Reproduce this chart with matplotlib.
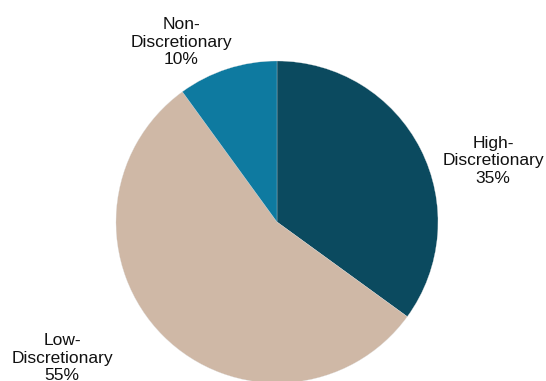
import matplotlib
matplotlib.use("Agg")
import matplotlib.pyplot as plt

# data
labels = ["High-\nDiscretionary\n35%", "Low-\nDiscretionary\n55%", "Non-\nDiscretionary\n10%"]
values = [35, 55, 10]
colors = ["#0b4a5f", "#cfb8a6", "#0e7aa0"]

plt.rcParams['font.family'] = ['Liberation Sans', 'DejaVu Sans']

W, H = 546, 381
cx, cy, r = 277, 222, 161
fig = plt.figure(figsize=(W / 100, H / 100), dpi=100)
ax = fig.add_axes([(cx - r) / W, (H - cy - r) / H, 2 * r / W, 2 * r / H])
ax.pie(values, colors=colors, startangle=90, counterclock=False,
       wedgeprops=dict(edgecolor="#dddddd", linewidth=0.2))
ax.set_xlim(-1, 1)
ax.set_ylim(-1, 1)
ax.set_aspect("equal")
ax.axis("off")

# label positions in pixel coords (centre of the middle line)
label_px = [(493, 161), (62, 358), (181, 42)]
for lab, (px, py) in zip(labels, label_px):
    ax.text((px - cx) / r, (cy - py) / r, lab, ha="center", va="center",
            fontsize=12.5, linespacing=1.2, color="#111111", clip_on=False)

fig.savefig("out.png", dpi=100)
